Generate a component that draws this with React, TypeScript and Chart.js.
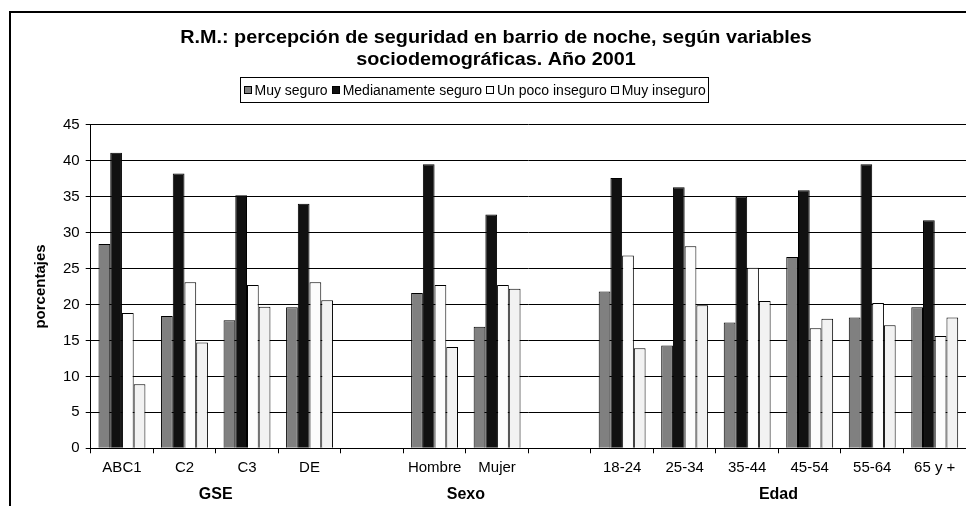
import { useEffect, useRef } from 'react';
import { Chart, registerables } from 'chart.js';

Chart.register(...registerables);

const TITLE_LINES = [
  'R.M.: percepción de seguridad en barrio de noche, según variables',
  'sociodemográficas. Año 2001',
];
const Y_TITLE = 'porcentajes';
const CATEGORIES = ['ABC1', 'C2', 'C3', 'DE', '', 'Hombre', 'Mujer', '', '18-24', '25-34', '35-44', '45-54', '55-64', '65 y +'];
const GROUP_NAMES = ['GSE', 'Sexo', 'Edad'];
const GROUP_FIRST = [0, 5, 8];
const GROUP_LAST = [3, 6, 13];
const SERIES_NAMES = ['Muy seguro', 'Medianamente seguro', 'Un poco inseguro', 'Muy inseguro'];
const MUY_SEGURO = [28.4, 18.4, 17.8, 19.6, null, 21.6, 16.9, null, 21.8, 14.3, 17.5, 26.6, 18.2, 19.6];
const MEDIANAMENTE_SEGURO = [41.1, 38.2, 35.2, 34.0, null, 39.5, 32.5, null, 37.6, 36.3, 35.0, 35.9, 39.5, 31.7];
const UN_POCO_INSEGURO = [18.8, 23.1, 22.7, 23.1, null, 22.7, 22.7, null, 26.8, 28.1, 25.1, 16.7, 20.2, 15.6];
const MUY_INSEGURO = [8.9, 14.7, 19.7, 20.6, null, 14.1, 22.2, null, 13.9, 19.9, 20.5, 18.0, 17.1, 18.2];
const SERIES_COLORS = ['#808080', '#111111', '#FCFCFC', '#F2F2F2'];
const Y_MIN = 0;
const Y_MAX = 45;
const Y_STEP = 5;

const FONT = "'Liberation Sans', Arial, sans-serif";

const decorPlugin = {
  id: 'decor',
  beforeDraw(chart: any) {
    const ctx = chart.ctx;
    ctx.save();
    ctx.fillStyle = '#fff';
    ctx.fillRect(0, 0, chart.width, chart.height);
    ctx.strokeStyle = '#000';
    ctx.lineWidth = 2;
    ctx.beginPath();
    ctx.moveTo(10, chart.height + 5);
    ctx.lineTo(10, 12);
    ctx.lineTo(chart.width + 5, 12);
    ctx.stroke();
    ctx.restore();
  },
  afterDraw(chart: any) {
    const ctx = chart.ctx;
    ctx.save();
    // title (slightly widened glyphs as in the reference)
    const titleCx = 496;
    const stretch = 1.1;
    ctx.fillStyle = '#000';
    ctx.textAlign = 'center';
    ctx.textBaseline = 'middle';
    ctx.font = `bold 18px ${FONT}`;
    ctx.save();
    ctx.translate(titleCx, 0);
    ctx.scale(stretch, 1);
    ctx.fillText(TITLE_LINES[0], 0, 38);
    ctx.fillText(TITLE_LINES[1], 0, 60);
    ctx.restore();

    // legend
    const cx = 474;
    ctx.font = `14px ${FONT}`;
    const sq = 8;
    const gapSqText = 3;
    const gapItem = 4;
    const widths = SERIES_NAMES.map((n) => ctx.measureText(n).width);
    let total = 0;
    widths.forEach((w, i) => {
      total += sq + gapSqText + w + (i < widths.length - 1 ? gapItem : 0);
    });
    const padX = 3;
    const boxW = total + padX * 2;
    const boxL = Math.round(cx - boxW / 2) + 0.5;
    const boxT = 77.5;
    const boxH = 25;
    ctx.strokeStyle = '#000';
    ctx.lineWidth = 1;
    ctx.strokeRect(boxL, boxT, Math.round(boxW), boxH);
    let x = boxL + padX;
    const midY = boxT + boxH / 2;
    ctx.textAlign = 'left';
    SERIES_NAMES.forEach((n, i) => {
      ctx.fillStyle = SERIES_COLORS[i];
      ctx.fillRect(Math.round(x), Math.round(midY - sq / 2), sq, sq);
      ctx.strokeStyle = '#000';
      ctx.strokeRect(Math.round(x) + 0.5, Math.round(midY - sq / 2) + 0.5, sq - 1, sq - 1);
      x += sq + gapSqText;
      ctx.fillStyle = '#000';
      ctx.fillText(n, x, midY + 1);
      x += widths[i] + gapItem;
    });

    // group labels
    const xs = chart.scales.x;
    ctx.font = `bold 16px ${FONT}`;
    ctx.textAlign = 'center';
    GROUP_NAMES.forEach((g, i) => {
      const px = (xs.getPixelForValue(GROUP_FIRST[i]) + xs.getPixelForValue(GROUP_LAST[i])) / 2;
      ctx.fillText(g, px, 495);
    });
    ctx.restore();
  },
};

export default function App() {
  const ref = useRef<HTMLCanvasElement | null>(null);
  useEffect(() => {
    document.body.style.margin = '0';
    const canvas = ref.current;
    if (!canvas) return;
    const data = [MUY_SEGURO, MEDIANAMENTE_SEGURO, UN_POCO_INSEGURO, MUY_INSEGURO];
    const chart = new Chart(canvas, {
      type: 'bar',
      data: {
        labels: CATEGORIES,
        datasets: SERIES_NAMES.map((name, i) => ({
          label: name,
          data: data[i],
          backgroundColor: SERIES_COLORS[i],
          borderColor: '#000',
          borderWidth: 1,
          categoryPercentage: 0.75,
          barPercentage: 1,
        })),
      },
      options: {
        responsive: false,
        animation: false,
        events: [],
        layout: { padding: { top: 124.7, left: 0, right: 0, bottom: 0 } },
        plugins: {
          legend: { display: false },
          title: { display: false },
          tooltip: { enabled: false },
        },
        scales: {
          x: {
            grid: {
              display: true,
              drawOnChartArea: false,
              drawTicks: true,
              tickLength: 5,
              color: '#000',
              offset: true,
            },
            border: { display: true, color: '#000', width: 1 },
            ticks: {
              color: '#000',
              font: { family: FONT, size: 15 },
              padding: 6,
              maxRotation: 0,
              autoSkip: false,
            },
            afterFit: (scale: any) => {
              scale.height = 57.7;
            },
          },
          y: {
            min: Y_MIN,
            max: Y_MAX,
            ticks: {
              stepSize: Y_STEP,
              color: '#000',
              font: { family: FONT, size: 15 },
              padding: 6,
            },
            grid: { color: '#000', lineWidth: 1, tickLength: 5 },
            border: { display: true, color: '#000', width: 1 },
            title: {
              display: true,
              text: Y_TITLE,
              color: '#000',
              font: { family: FONT, size: 15, weight: 'bold' },
              padding: { top: 32, bottom: 0 },
            },
            afterFit: (scale: any) => {
              scale.width = 90.7;
            },
          },
        },
      },
      plugins: [decorPlugin],
    });
    return () => chart.destroy();
  }, []);
  return (
    <div style={{ width: 966, height: 506, overflow: 'hidden' }}>
      <canvas ref={ref} width={966} height={506} style={{ display: 'block' }} />
    </div>
  );
}
